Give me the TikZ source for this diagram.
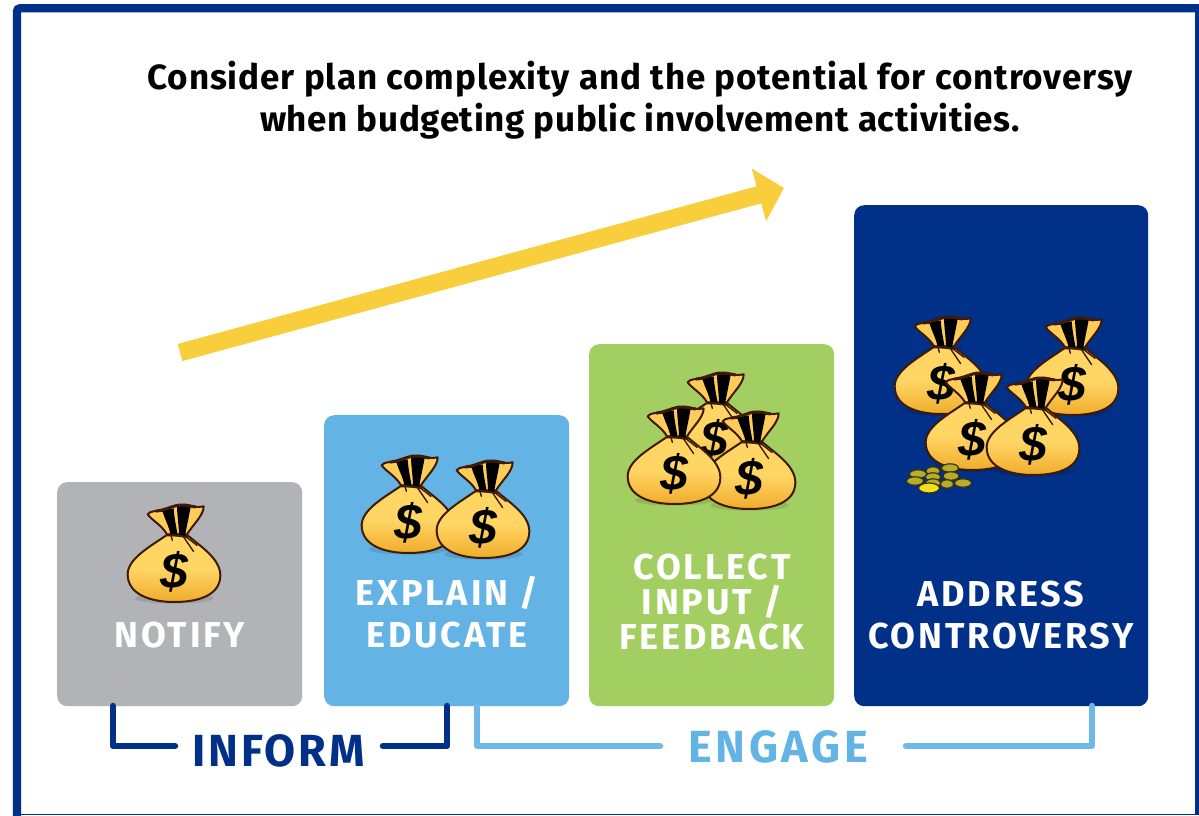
\documentclass[tikz,border=0pt]{standalone}
\usepackage{fontspec}
\setmainfont{Fira Sans}[BoldFont={Fira Sans Bold}]
\newfontfamily\titlefont[LetterSpace=2.6]{Fira Sans Bold}
\newfontfamily\titlefontb[LetterSpace=1.9]{Fira Sans Bold}
\newfontfamily\labelfont[LetterSpace=8]{Fira Sans Bold}
\newfontfamily\informfont[LetterSpace=6]{Fira Sans Bold}
\newfontfamily\dollarfont{Liberation Sans Bold Italic}
\usetikzlibrary{arrows.meta}
\definecolor{navy}{HTML}{003087}
\definecolor{skyb}{HTML}{63B3E5}
\definecolor{leaf}{HTML}{A3CF62}
\definecolor{greyb}{HTML}{B1B3B6}
\definecolor{arrowy}{HTML}{F8CE3C}
\definecolor{bagline}{HTML}{3F1A05}
\definecolor{bagtop}{HTML}{FFD564}
\definecolor{bagbot}{HTML}{F0AC2C}
\definecolor{coinc}{HTML}{B9AC2C}
\definecolor{coinb}{HTML}{F2DF20}
\tikzset{
  stepbox/.style={rounded corners=10pt,minimum width=245pt,inner sep=0pt,anchor=north west},
  boxlabel/.style={text=white,font=\labelfont\fontsize{36}{42}\selectfont,align=center,inner sep=0pt},
  bracketdark/.style={draw=navy,line width=6.5pt,line cap=round,line join=round},
  bracketlight/.style={draw=skyb!92!white,line width=6.5pt,line cap=round,line join=round},
  coin/.style={draw=black!70!coinc,line width=1.2pt,fill=coinc},
  brightcoin/.style={draw=black!70!coinc,line width=1.2pt,fill=coinb},
  pics/moneybag/.style={code={
    \begin{scope}[xscale=0.3333,yscale=0.3333,shift={(-221,-188)}]
      \fill[black,opacity=.10] (222,324) ellipse (118 and 16);
      \path[draw=bagline,line width=2pt,top color=bagtop,bottom color=bagbot,middle color=bagtop]
        (198,135) .. controls (150,168) and (82,205) .. (82,252)
        .. controls (82,312) and (150,335) .. (222,335)
        .. controls (300,335) and (360,312) .. (360,255)
        .. controls (360,205) and (300,168) .. (262,135) -- cycle;
      \path[draw=bagline,line width=2pt,fill=bagtop!90!orange,line join=round]
        (200,132) .. controls (185,105) and (155,90) .. (142,72)
        .. controls (150,60) and (170,62) .. (190,62)
        .. controls (205,55) and (225,42) .. (245,44)
        .. controls (265,42) and (290,55) .. (310,48)
        .. controls (310,75) and (280,100) .. (260,132) -- cycle;
      \fill[black] (186,60) -- (220,54) .. controls (222,85) and (228,110) .. (232,134)
        -- (210,130) .. controls (205,105) and (192,85) .. (186,60) -- cycle;
      \fill[black] (230,44) -- (272,44) .. controls (266,80) and (258,110) .. (254,140)
        -- (236,134) .. controls (236,105) and (230,75) .. (230,44) -- cycle;
      \draw[bagline,line width=3pt,line cap=round] (168,62) .. controls (195,60) and (225,42) .. (245,44) .. controls (258,43) and (272,48) .. (285,50);
      \draw[bagline,line width=2pt,line cap=round] (200,132) -- (262,140);
      \draw[bagline,line width=1.4pt,line cap=round] (250,140) -- (280,184) (258,140) -- (290,165) (212,135) -- (216,150);
      \node[text=black,font=\dollarfont\fontsize{50}{50}\selectfont,inner sep=0pt] at (221,245) {\$};
    \end{scope}
  }}
}
\begin{document}
\begin{tikzpicture}[x=1pt,y=-1pt]
\useasboundingbox (0,0) rectangle (1199,815);
\fill[white] (0,0) rectangle (1199,815);
% frame
\draw[navy,line width=8.3pt,rounded corners=3pt] (17,816) -- (17,8.3) -- (1200,8.3);
\fill[navy] (1195,0) rectangle (1199,815);
\fill[navy] (13,813.5) rectangle (1199,815);
\fill[white] (1195,0) rectangle (1199,4);
% title
\node[font=\fontsize{35}{42}\selectfont,align=center,text=black,inner sep=0pt] (title) at (640,100)
  {\titlefont Consider plan complexity and the potential for controversy\\\titlefontb when budgeting public involvement activities.};
% yellow arrow
\coordinate (arrowstart) at (180,352.5);
\coordinate (arrowend) at (784,188);
\draw[arrowy,line width=17.7pt,-{Triangle[length=26pt,width=53pt]}] (arrowstart) -- (arrowend);
% boxes
\node[stepbox,fill=greyb,minimum height=224pt] (notify) at (57,482) {};
\node[stepbox,fill=skyb,minimum height=291pt] (explain) at (324,415) {};
\node[stepbox,fill=leaf,minimum height=362pt] (collect) at (589,344) {};
\node[stepbox,fill=navy,minimum width=294pt,minimum height=501pt] (address) at (854,205) {};
% box labels
\node[boxlabel] (lnotify) at (180,635) {NOTIFY};
\node[boxlabel] (lexplain) at (447,612.5) {EXPLAIN /\\EDUCATE};
\node[boxlabel,font=\labelfont\fontsize{36}{35}\selectfont] (lcollect) at (712,602) {COLLECT\\INPUT /\\FEEDBACK};
\node[boxlabel] (laddress) at (1001,615) {ADDRESS\\CONTROVERSY};
% bags
\pic at (174,553) {moneybag};
\pic at (408,504) {moneybag};
\pic at (483,509) {moneybag};
\pic at (714,421) {moneybag};
\pic at (749,460) {moneybag};
\pic at (674,455) {moneybag};
\pic at (941,365) {moneybag};
\pic at (1072,366) {moneybag};
\pic at (972,421) {moneybag};
\pic at (1033,426) {moneybag};
% coins
\foreach \cx/\cy/\ca in {918/474/8.5,915/481/8.5,933/471/7,950/468/8.5,951/476/8,933/477/7.5,933/483/7.5,947/484/6.5,963/483/8.5}
  \draw[coin] (\cx,\cy) ellipse (\ca pt and 4.2pt);
\draw[brightcoin] (929,488) ellipse (10.5pt and 5pt);
% group labels
\node[font=\informfont\fontsize{45}{45}\selectfont,text=navy,inner sep=0pt] (inform) at (278.5,751) {INFORM};
\node[font=\labelfont\fontsize{45}{45}\selectfont,text=skyb,inner sep=0pt] (engage) at (778,747) {ENGAGE};
% brackets
\coordinate (informa) at (113,706);
\coordinate (informb) at (113,746);
\coordinate (informc) at (175,746);
\coordinate (informd) at (447,706);
\coordinate (informe) at (447,746);
\coordinate (informf) at (383,746);
\coordinate (engagea) at (477,706);
\coordinate (engageb) at (477,746);
\coordinate (engagec) at (660,746);
\coordinate (engaged) at (1092,706);
\coordinate (engagee) at (1092,746);
\coordinate (engagef) at (906,746);
\draw[bracketlight] (engagea) -- (engageb) -- (engagec);
\draw[bracketlight] (engaged) -- (engagee) -- (engagef);
\draw[bracketdark] (informa) -- (informb) -- (informc);
\draw[bracketdark] (informd) -- (informe) -- (informf);
\end{tikzpicture}
\end{document}
